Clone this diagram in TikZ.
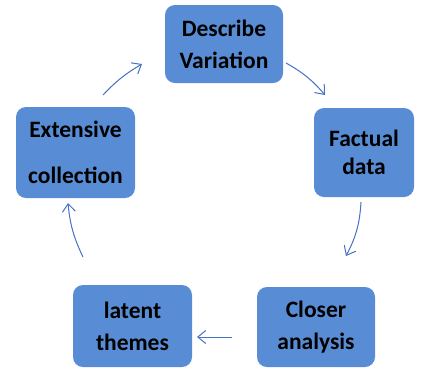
\documentclass[tikz,border=0pt]{standalone}
\usepackage{fontspec}
\setmainfont{Carlito}
\usetikzlibrary{arrows.meta}
\definecolor{boxblue}{HTML}{588DD5}
\definecolor{arrowblue}{HTML}{4472C4}
\tikzset{
  stage/.style={rounded corners=10pt, fill=boxblue, align=center, inner sep=0pt,
    font=\bfseries\fontsize{23.5}{32}\selectfont},
  flow/.style={draw=arrowblue, line width=1pt, -{Straight Barb[length=8pt,width=13pt]}}
}
\begin{document}
\begin{tikzpicture}[x=1pt,y=-1pt]
\useasboundingbox (0,0) rectangle (422,368);
\node[stage, minimum width=118pt, minimum height=78pt] (describe) at (224,44){Describe\\Variation};
\node[stage, minimum width=100pt, minimum height=89pt] (factual) at (364,152.5){Factual\\[-4pt]data};
\node[stage, minimum width=118pt, minimum height=80pt] (closer) at (316,327){Closer\\analysis};
\node[stage, minimum width=119pt, minimum height=82pt] (latent) at (132.5,326){latent\\themes};
\node[stage, minimum width=119pt, minimum height=91pt] (extensive) at (75.5,152.5){Extensive\\[14pt]collection};
\coordinate (a1) at (103,95);
\coordinate (b1) at (142,64);
\coordinate (a2) at (286,63);
\coordinate (b2) at (325,95);
\coordinate (a3) at (361,202);
\coordinate (b3) at (346,256);
\coordinate (a4) at (232,337);
\coordinate (b4) at (197,337);
\coordinate (a5) at (83,257);
\coordinate (b5) at (68,203);
\draw[flow] (a1) to[bend left=8] (b1);
\draw[flow] (a2) to[bend left=10] (b2);
\draw[flow] (a3) to[bend left=12] (b3);
\draw[flow] (a4) -- (b4);
\draw[flow] (a5) to[bend left=10] (b5);
\end{tikzpicture}
\end{document}
